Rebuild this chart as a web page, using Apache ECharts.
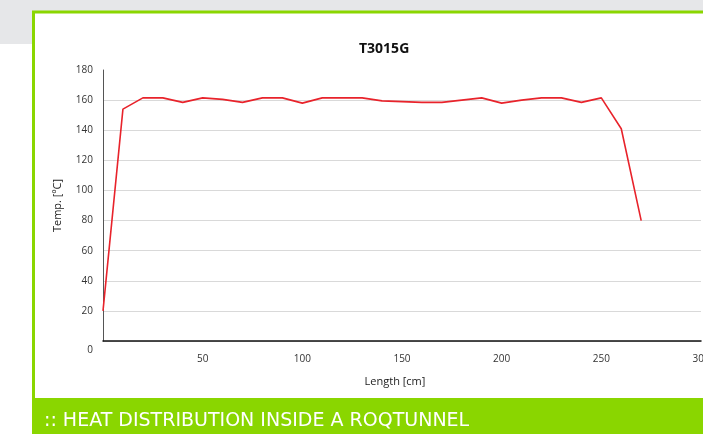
<!DOCTYPE html>
<html>
<head>
<meta charset="utf-8">
<script src="https://cdn.jsdelivr.net/npm/echarts@6/dist/echarts.min.js"></script>
<style>
  html, body { margin: 0; padding: 0; background: #fff; }
  #chart { width: 703px; height: 434px; }
</style>
</head>
<body>
<div id="chart"></div>
<script>
// measured points along the tunnel
var lengths = [0, 10, 20, 30, 40, 50, 60, 70, 80, 90, 100, 110, 120, 130, 140,
  150, 160, 170, 180, 190, 200, 210, 220, 230, 240, 250, 260, 270];
var temps = [20, 154, 161.5, 161.5, 158.5, 161.5, 160.5, 158.5, 161.5, 161.5, 158, 161.5, 161.5, 161.5, 159.5,
  159, 158.5, 158.5, 160, 161.5, 158, 160, 161.5, 161.5, 158.5, 161.5, 141, 80];
var title = 'T3015G';
var banner = ':: HEAT DISTRIBUTION INSIDE A ROQTUNNEL';

var green = '#8ad600';
var font = 'Open Sans';

var chart = echarts.init(document.getElementById('chart'));

var points = lengths.map(function (l, i) { return [l, temps[i]]; });

// gridline colours, last one (180) hidden
var gridColors = [];
for (var i = 0; i < 9; i++) gridColors.push('#d9d9d9');
gridColors.push('rgba(0,0,0,0)');

chart.setOption({
  animation: false,
  title: {
    text: title,
    left: 354,
    top: 37,
    textStyle: { fontFamily: font, fontSize: 14, fontWeight: 'bold', color: '#111' }
  },
  graphic: [
    { type: 'rect', z: -10, shape: { x: 0, y: 0, width: 703, height: 44 }, style: { fill: '#e6e7e9' } },
    { type: 'rect', z: -9, shape: { x: 33.5, y: 12, width: 700, height: 430 },
      style: { fill: '#fff', stroke: green, lineWidth: 3 } },
    { type: 'rect', z: -8, shape: { x: 32, y: 398, width: 703, height: 36 }, style: { fill: green } },
    { type: 'text', z: 10, x: 44, y: 421,
      style: { text: banner, fill: '#fff', font: '19px "DejaVu Sans"', verticalAlign: 'middle' } }
  ],
  grid: { left: 103, right: 2, top: 70, bottom: 93, outerBoundsMode: 'none' },
  xAxis: {
    type: 'value',
    min: 0,
    max: 300,
    interval: 50,
    name: 'Length [cm]',
    nameLocation: 'middle',
    nameGap: 35,
    nameTextStyle: { fontFamily: font, fontSize: 11, color: '#222', padding: [0, 14, 0, 0] },
    axisLine: { lineStyle: { color: '#111', width: 1.5 } },
    axisTick: { show: false },
    splitLine: { show: false },
    axisLabel: {
      margin: 13,
      fontFamily: font, fontSize: 10, color: '#333',
      formatter: function (v) { return v === 0 ? '' : v; }
    }
  },
  yAxis: {
    type: 'value',
    min: 0,
    max: 180,
    interval: 20,
    name: 'Temp. [ºC]',
    nameLocation: 'middle',
    nameGap: 40,
    nameTextStyle: { fontFamily: font, fontSize: 11, color: '#222' },
    axisLine: { show: true, lineStyle: { color: '#555', width: 1 } },
    axisTick: { show: false },
    splitLine: { lineStyle: { color: gridColors, width: 1.2 } },
    axisLabel: {
      margin: 10,
      fontFamily: font, fontSize: 10, color: '#333',
      formatter: function (v) { return v === 0 ? '{z|0}' : v; },
      rich: { z: { fontFamily: font, fontSize: 10, color: '#333', padding: [19, 0, 0, 0] } }
    }
  },
  series: [{
    type: 'line',
    data: points,
    showSymbol: false,
    lineStyle: { color: '#e8232b', width: 1.6 }
  }]
});
</script>
</body>
</html>
